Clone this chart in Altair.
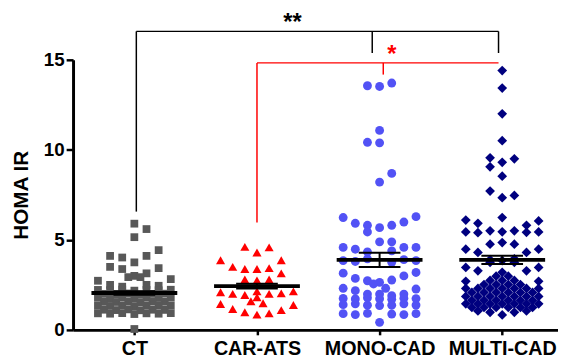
import altair as alt
import pandas as pd

groups = ["CT", "CAR-ATS", "MONO-CAD", "MULTI-CAD"]
colors = ["#585858", "#ff0000", "#5252f5", "#00007f"]
shapes = ["square", "triangle-up", "circle", "diamond"]
sizes = [62, 85, 81, 98]

# HOMA IR values and beeswarm column (slot)
ct_vals = [5.9, 5.6, 5.15,
           4.11, 4.02, 3.75, 4.11, 4.43,
           3.5, 3.38, 3.0, 3.14, 3.43,
           2.93, 2.93,
           2.73, 2.82,
           2.5, 2.4, 2.5, 2.45,
           2.22, 2.2, 2.24, 2.18, 2.22, 2.2, 2.23,
           2.0, 1.98, 2.02, 1.97, 2.0, 2.01,
           1.78, 1.76, 1.8, 1.75, 1.79, 1.77, 1.8,
           1.56, 1.55, 1.58, 1.54, 1.57, 1.56,
           1.34, 1.33, 1.36, 1.32, 1.35, 1.34, 1.36,
           1.12, 1.1, 1.14, 1.09, 1.12, 1.11,
           0.92, 0.9, 0.93, 0.88, 0.92, 0.9, 0.93,
           0.05]
ct_slots = [0, 1, 0,
            -2, -1, 0, 1, 2,
            -2, -1, 0, 1, 2,
            -0.5, 0.5,
            -3, 3,
            -2, -1, 1, 2,
            -3, -2, -1, 0, 1, 2, 3,
            -2.5, -1.5, -0.5, 0.5, 1.5, 2.5,
            -3, -2, -1, 0, 1, 2, 3,
            -2.5, -1.5, -0.5, 0.5, 1.5, 2.5,
            -3, -2, -1, 0, 1, 2, 3,
            -2.5, -1.5, -0.5, 0.5, 1.5, 2.5,
            -3, -2, -1, 0, 1, 2, 3,
            0]

car_vals = [4.61, 4.3, 4.58, 3.87, 3.87, 3.5, 3.38, 3.38, 3.43, 3.14,
            2.8, 2.75, 2.8,
            2.09, 2.0, 1.94, 2.14, 2.0, 2.03, 2.14,
            1.81, 1.59, 1.48,
            1.44, 1.16, 0.98, 0.85, 0.92, 1.1, 1.38]
car_slots = [-1, 0, 1, -3, 2, -2, -1, 0, 1, 2,
             -1, 0, 1,
             -3, -2, -1, 0, 1, 2, 3,
             0, -0.5, 0.5,
             -3, -2, -1, 0, 1, 2, 3]

mono_vals = [13.56, 13.52, 13.71, 11.08, 10.42, 10.39, 8.69, 8.21,
             6.24, 6.29, 5.92, 5.99, 5.81, 5.44, 5.68, 5.81, 4.89, 4.89,
             4.58, 4.48, 4.33, 4.39, 4.58, 4.58,
             3.85, 3.8, 3.95, 3.75, 3.9, 3.85,
             3.15, 2.86, 2.73, 2.64, 2.77, 3.0, 3.19,
             2.55, 2.31,
             2.31, 2.18, 1.99, 1.99, 1.9, 1.99, 2.27,
             1.75, 1.72, 1.78, 1.73, 1.7, 1.76, 1.74,
             1.4, 1.45, 1.37, 1.35, 1.37, 1.45, 1.38,
             0.9, 0.85, 0.92, 0.88, 0.85, 0.9, 0.42]
mono_slots = [-1, 0, 1, 0, -1, 0, 1, 0,
              -3, 3, -2, 2, -1, -1, 0, 1, 0, 1,
              -3, -2, -1, 1, 2, 3,
              -3, -2, -1, 1, 2, 3,
              -3, -2, -1, 0, 1, 2, 3,
              -0.5, 0.5,
              -3, -2, -1, 0, 1, 2, 3,
              -3, -2, -1, 0, 1, 2, 3,
              -3, -2, -1, 0, 1, 2, 3,
              -3, -2, -1, 1, 2, 3, 0]

multi_vals = [14.4, 13.43, 12.0, 10.51,
              9.56, 9.31, 9.5, 9.06, 8.54,
              7.71, 7.34, 7.47, 6.24,
              6.1, 5.92, 6.05, 5.81,
              5.44, 5.4, 5.5, 5.45, 5.5, 5.42, 5.44,
              4.48, 4.3, 4.76, 4.85, 4.76, 4.3, 4.48,
              3.47, 3.28, 3.75, 3.75, 3.28, 3.47,
              3.9, 3.85, 3.95,
              3.2,
              2.98, 2.98,
              2.75, 2.75, 2.75, 2.7, 2.7,
              2.52, 2.52, 2.52, 2.52,
              2.3, 2.3, 2.3, 2.3, 2.3, 2.3, 2.3,
              2.08, 2.08, 2.08, 2.08, 2.08, 2.08,
              1.86, 1.86, 1.86, 1.86, 1.86, 1.86, 1.86,
              1.64, 1.64, 1.64, 1.64, 1.64, 1.64,
              1.45, 1.45, 1.45, 1.45, 1.45, 1.45, 1.45,
              1.25, 1.25, 1.25, 1.25, 1.25, 1.25,
              1.05, 1.05, 0.98, 0.98, 0.83]
multi_slots = [0, 0, 0, 0,
               -1, 0, 1, -1, 0,
               -1, 0, 1, 0,
               -3, -2, 3, 2,
               -3, -2, -1, 0, 1, 2, 3,
               -3, -2, -1, 0, 1, 2, 3,
               -3, -2, -1, 1, 2, 3,
               -1, 0, 1,
               0,
               -0.5, 0.5,
               -1, 0, 1, -3, 3,
               -1.5, -0.5, 0.5, 1.5,
               -3, -2, -1, 0, 1, 2, 3,
               -2.5, -1.5, -0.5, 0.5, 1.5, 2.5,
               -3, -2, -1, 0, 1, 2, 3,
               -2.5, -1.5, -0.5, 0.5, 1.5, 2.5,
               -3, -2, -1, 0, 1, 2, 3,
               -2.5, -1.5, -0.5, 0.5, 1.5, 2.5,
               -2, 2, -1, 1, 0]

means = [2.05, 2.43, 3.89, 3.89]
sems = [0.1, 0.13, 0.4, 0.23]

SLOT = 0.099
MEAN_HALF = 0.35
CAP_HALF = 0.17

series = [(ct_vals, ct_slots), (car_vals, car_slots),
          (mono_vals, mono_slots), (multi_vals, multi_slots)]

xscale = alt.Scale(domain=[-0.5, 3.455], nice=False, zero=False)
yscale = alt.Scale(domain=[0, 15], nice=False, zero=False)

label_expr = "['CT','CAR-ATS','MONO-CAD','MULTI-CAD'][datum.value]"
x_axis = alt.Axis(values=[0, 1, 2, 3], labelExpr=label_expr, title=None,
                  labelFontSize=20, labelFontWeight="bold", labelColor="black",
                  labelFont="Liberation Sans", domainColor="black", domainWidth=3,
                  tickColor="black", tickWidth=2.5, tickSize=5, labelPadding=4,
                  grid=False, labelFlush=False)
y_axis = alt.Axis(values=[0, 5, 10, 15], title="HOMA IR", titleFontSize=21,
                  titleFontWeight="bold", titleColor="black", titleFont="Liberation Sans",
                  labelFontSize=19, labelFontWeight="bold", labelColor="black",
                  labelFont="Liberation Sans", domainColor="black", domainWidth=3,
                  tickColor="black", tickWidth=2.5, tickSize=7, labelPadding=2,
                  grid=False, titleX=-52, titleY=137, titleAngle=270,
                  titleAlign="center", titleBaseline="middle")


def X(field):
    return alt.X(field, scale=xscale, axis=x_axis)


def Y(field):
    return alt.Y(field, scale=yscale, axis=y_axis)


layers = []
for gi, (vals, slots) in enumerate(series):
    df = pd.DataFrame({"x": [gi + s * SLOT for s in slots], "y": vals})
    layers.append(
        alt.Chart(df).mark_point(filled=True, opacity=1, shape=shapes[gi],
                                 size=sizes[gi], color=colors[gi], strokeWidth=0)
        .encode(x=X("x:Q"), y=Y("y:Q"))
    )

stats = pd.DataFrame({
    "x": [0, 1, 2, 3],
    "mean": means,
    "sem": sems,
})
stats["xl"] = stats["x"] - MEAN_HALF
stats["xr"] = stats["x"] + MEAN_HALF
stats["cl"] = stats["x"] - CAP_HALF
stats["cr"] = stats["x"] + CAP_HALF
stats["lo"] = stats["mean"] - stats["sem"]
stats["hi"] = stats["mean"] + stats["sem"]

base = alt.Chart(stats)
layers.append(base.mark_rule(color="black", strokeWidth=2).encode(
    x=X("x:Q"), y=Y("lo:Q"), y2="hi:Q"))
layers.append(base.mark_rule(color="black", strokeWidth=2).encode(
    x=X("cl:Q"), x2="cr:Q", y=Y("lo:Q")))
layers.append(base.mark_rule(color="black", strokeWidth=2).encode(
    x=X("cl:Q"), x2="cr:Q", y=Y("hi:Q")))
layers.append(base.mark_rule(color="black", strokeWidth=4).encode(
    x=X("xl:Q"), x2="xr:Q", y=Y("mean:Q")))

# significance brackets
br_x = [0.016, 0.016, 1.94, 2.97, 1.0, 1.0, 2.03]
br_x2 = [0.016, 2.97, 1.94, 2.97, 1.0, 2.97, 2.03]
br_y = [6.57, 16.58, 15.38, 15.38, 5.97, 14.83, 14.18]
br_y2 = [16.58, 16.58, 16.58, 16.58, 14.83, 14.83, 14.83]
br_c = ["black", "black", "black", "black", "red", "red", "red"]
br = pd.DataFrame({"x": br_x, "x2": br_x2, "y": br_y, "y2": br_y2, "c": br_c})
layers.append(alt.Chart(br).mark_rule(strokeWidth=1.5).encode(
    x=X("x:Q"), x2="x2:Q", y=Y("y:Q"), y2="y2:Q",
    color=alt.Color("c:N", scale=None)))

stars = pd.DataFrame({"x": [1.29, 2.1], "y": [17.35, 15.6], "t": ["**", "*"],
                      "c": ["black", "red"]})
layers.append(alt.Chart(stars).mark_text(fontSize=24, fontWeight="bold",
                                         font="Liberation Sans", baseline="middle",
                                         dy=6).encode(
    x=X("x:Q"), y=Y("y:Q"), text="t:N", color=alt.Color("c:N", scale=None)))

chart = alt.layer(*layers).properties(
    width=492, height=274,
    autosize=alt.AutoSizeParams(type="none"),
    padding={"left": 66, "top": 50, "right": 0, "bottom": 30},
).configure(font="Liberation Sans").configure_view(stroke=None)

chart.save("out.html", embed_options={"renderer": "svg", "actions": False})
